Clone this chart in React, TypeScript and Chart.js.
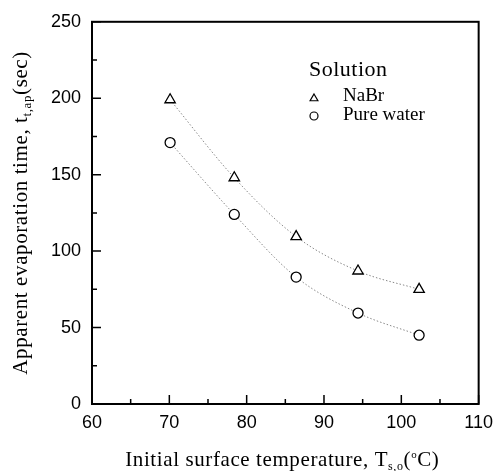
import { useEffect, useRef } from "react";
import { Chart, registerables } from "chart.js";
import { drawPoint } from "chart.js/helpers";

Chart.register(...registerables);

// Initial surface temperature (°C) of each run
const temperatures = [70.1, 78.4, 86.4, 94.4, 102.3];
// Apparent evaporation time (sec)
const nabrTimes = [199, 148, 109.5, 87, 75];
const waterTimes = [171, 124, 83, 59.5, 45];

const seriesLabels = ["NaBr", "Pure water"];
const seriesMarkers = ["triangle", "circle"];
const legendTitle = "Solution";

const xMin = 60;
const xMax = 110;
const xStep = 10;
const yMin = 0;
const yMax = 250;
const yStep = 50;

const SERIF = "'Liberation Serif', 'Times New Roman', serif";
const SANS = "'Liberation Sans', Arial, sans-serif";

type Run = { text: string; size: number; dy?: number };

const xTitleRuns: Run[] = [
  { text: "Initial surface temperature, T", size: 21 },
  { text: "s,o", size: 12, dy: 4 },
  { text: "(", size: 21 },
  { text: "o", size: 11, dy: -8 },
  { text: "C)", size: 21 },
];

const yTitleRuns: Run[] = [
  { text: "Apparent evaporation time, t", size: 21 },
  { text: "t,ap", size: 13, dy: 4 },
  { text: "(sec)", size: 21 },
];

function runsWidth(ctx: CanvasRenderingContext2D, runs: Run[]) {
  let w = 0;
  for (const r of runs) {
    ctx.font = `${r.size}px ${SERIF}`;
    w += ctx.measureText(r.text).width;
  }
  return w;
}

function drawRuns(ctx: CanvasRenderingContext2D, runs: Run[], x: number, y: number) {
  let cx = x;
  for (const r of runs) {
    ctx.font = `${r.size}px ${SERIF}`;
    ctx.fillText(r.text, cx, y + (r.dy || 0));
    cx += ctx.measureText(r.text).width;
  }
}

// Frame and inward-pointing major/minor ticks on the bottom and left axes
const framePlugin = {
  id: "frame",
  afterDraw(chart: any) {
    const { ctx, chartArea: a, scales } = chart;
    ctx.save();
    ctx.strokeStyle = "#000";
    ctx.lineWidth = 2;
    ctx.strokeRect(a.left, a.top, a.right - a.left, a.bottom - a.top);
    ctx.lineWidth = 1.5;
    ctx.beginPath();
    for (let v = xMin; v <= xMax; v += xStep / 2) {
      const px = scales.x.getPixelForValue(v);
      const len = (v - xMin) % xStep === 0 ? 9 : 5;
      ctx.moveTo(px, a.bottom);
      ctx.lineTo(px, a.bottom - len);
    }
    for (let v = yMin; v <= yMax; v += yStep / 2) {
      const py = scales.y.getPixelForValue(v);
      const len = (v - yMin) % yStep === 0 ? 9 : 5;
      ctx.moveTo(a.left, py);
      ctx.lineTo(a.left + len, py);
    }
    ctx.stroke();
    ctx.restore();
  },
};

// Axis titles with sub/superscripts
const titlesPlugin = {
  id: "titles",
  afterDraw(chart: any) {
    const { ctx, chartArea: a } = chart;
    ctx.save();
    ctx.fillStyle = "#000";
    ctx.textBaseline = "alphabetic";
    ctx.textAlign = "left";
    (ctx as any).letterSpacing = "0.6px";

    const wx = runsWidth(ctx, xTitleRuns);
    drawRuns(ctx, xTitleRuns, (a.left + a.right) / 2 - wx / 2 - 3, 466);

    const wy = runsWidth(ctx, yTitleRuns);
    ctx.translate(27, (a.top + a.bottom) / 2);
    ctx.rotate(-Math.PI / 2);
    drawRuns(ctx, yTitleRuns, -wy / 2, 0);
    ctx.restore();
  },
};

// Legend block inside the plot area
const legendPlugin = {
  id: "solutionLegend",
  afterDraw(chart: any) {
    const { ctx } = chart;
    ctx.save();
    ctx.fillStyle = "#000";
    ctx.textAlign = "left";
    ctx.textBaseline = "alphabetic";
    (ctx as any).letterSpacing = "0.5px";
    ctx.font = `22px ${SERIF}`;
    ctx.fillText(legendTitle, 309, 76);
    (ctx as any).letterSpacing = "0px";

    const rows = [
      { markerY: 98.5, radius: 4.5, textY: 101 },
      { markerY: 116, radius: 4, textY: 120 },
    ];
    chart.data.datasets.forEach((ds: any, i: number) => {
      const row = rows[i];
      ctx.strokeStyle = "#000";
      ctx.fillStyle = "#fff";
      ctx.lineWidth = 1.2;
      drawPoint(ctx, { pointStyle: ds.pointStyle, radius: row.radius, borderWidth: 1.2, rotation: 0 } as any, 314, row.markerY);
      ctx.fillStyle = "#000";
      ctx.font = `19px ${SERIF}`;
      ctx.fillText(ds.label, 343, row.textY);
    });
    ctx.restore();
  },
};

export default function App() {
  const ref = useRef<HTMLCanvasElement | null>(null);

  useEffect(() => {
    if (!ref.current) return;
    const makeSeries = (label: string, values: number[], marker: string, radius: number) => ({
      label,
      data: temperatures.map((t, i) => ({ x: t, y: values[i] })),
      showLine: true,
      borderColor: "#888",
      borderWidth: 1,
      borderDash: [1.5, 2],
      cubicInterpolationMode: "monotone" as const,
      pointStyle: marker,
      pointRadius: radius,
      pointBorderColor: "#000",
      pointBackgroundColor: "#fff",
      pointBorderWidth: 1.3,
    });

    const chart = new Chart(ref.current, {
      type: "scatter",
      data: {
        datasets: [
          makeSeries(seriesLabels[0], nabrTimes, seriesMarkers[0], 6),
          makeSeries(seriesLabels[1], waterTimes, seriesMarkers[1], 5),
        ],
      },
      options: {
        animation: false,
        responsive: true,
        maintainAspectRatio: false,
        layout: { padding: { top: 18, right: 19, left: 0, bottom: 0 } },
        plugins: {
          legend: { display: false },
          tooltip: { enabled: false },
        },
        scales: {
          x: {
            type: "linear",
            min: xMin,
            max: xMax,
            grid: { display: false, drawTicks: false },
            border: { display: false },
            ticks: {
              stepSize: xStep,
              color: "#000",
              padding: 8,
              font: { family: SANS, size: 18 },
            },
            afterFit(scale: any) {
              scale.height = 67;
            },
          },
          y: {
            type: "linear",
            min: yMin,
            max: yMax,
            grid: { display: false, drawTicks: false },
            border: { display: false },
            ticks: {
              stepSize: yStep,
              color: "#000",
              padding: 11,
              font: { family: SANS, size: 18 },
            },
            afterFit(scale: any) {
              scale.width = 92;
            },
          },
        },
      },
      plugins: [framePlugin, titlesPlugin, legendPlugin],
    });
    return () => chart.destroy();
  }, []);

  return (
    <div style={{ position: "fixed", left: 0, top: 0, width: 501, height: 471, background: "#fff" }}>
      <canvas ref={ref} />
    </div>
  );
}
